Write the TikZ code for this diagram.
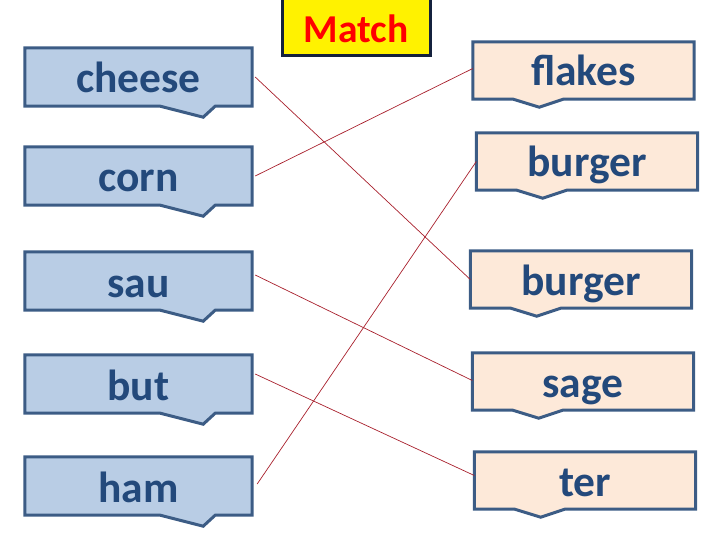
\documentclass[tikz,border=0pt]{standalone}
\usepackage{fontspec}
\setmainfont{Carlito}
\usetikzlibrary{backgrounds}
\definecolor{lfill}{HTML}{B9CDE5}
\definecolor{rfill}{HTML}{FDE9D9}
\definecolor{edge}{HTML}{3C5C85}
\definecolor{ink}{HTML}{23497B}
\definecolor{wire}{HTML}{A8202C}
\definecolor{navy}{HTML}{14213D}

\begin{document}
\begin{tikzpicture}[
        x=1pt, y=-1pt,
        word/.style={inner sep=0pt, text depth=13pt, text=ink,
            font=\fontsize{43.5}{43.5}\selectfont\bfseries},
        left box/.style={word, text height=45pt, minimum width=227pt},
        right box/.style={word, text height=44pt, minimum width=221pt},
        left shape/.style={draw=edge, fill=lfill, line width=3pt},
        right shape/.style={draw=edge, fill=rfill, line width=3pt},
        match box/.style={draw=navy, fill=yellow, line width=3pt, inner sep=0pt,
            text height=44pt, text depth=13pt, minimum width=148pt, text=red,
            font=\fontsize{39.5}{39.5}\selectfont\bfseries},
        match line/.style={wire, line width=0.7pt},
    ]

    \useasboundingbox (0,0) rectangle (720,540);

    \node[match box] (match) at (356,27.5) {Match};

    % left column
    \foreach \n/\top in {cheese/48, corn/147, sau/252, but/355, ham/457}
        \node[left box] (\n) at (138.5,\top+29) {\n};

    % right column
    \node[right box] (flakes)  at (583.5,70.5) {flakes};
    \node[right box] (burgerA) at (587,161.5)  {burger};
    \node[right box] (burgerB) at (581,279.5)  {burger};
    \node[right box] (sage)    at (583,381.5)  {sage};
    \node[right box] (ter)     at (585,480.5)  {ter};

    \begin{scope}[on background layer]
        \foreach \n in {cheese,corn,sau,but,ham}
            \draw[left shape] (\n.north west) -- (\n.north east) -- (\n.south east)
                -- ++(-37,0) -- ++(-12,11) -- ++(-43,-11) -- (\n.south west) -- cycle;
        \foreach \n in {flakes,burgerA,burgerB,sage,ter}
            \draw[right shape] (\n.north west) -- (\n.north east) -- (\n.south east)
                -- ++(-131,0) -- ++(-24,8) -- ++(-26,-8) -- (\n.south west) -- cycle;
    \end{scope}

    % answers
    \draw[match line] ([xshift=3pt]cheese.east) -- (burgerB.west);
    \draw[match line] ([xshift=3pt]corn.east) -- ([yshift=2pt]flakes.west);
    \draw[match line] ([xshift=3pt,yshift=6pt]sau.east) -- ([yshift=1pt]sage.west);
    \draw[match line] ([xshift=3pt,yshift=10pt]but.east) -- ([yshift=5pt]ter.west);
    \draw[match line] ([xshift=5pt,yshift=2pt]ham.east) -- (burgerA.west);

\end{tikzpicture}
\end{document}
